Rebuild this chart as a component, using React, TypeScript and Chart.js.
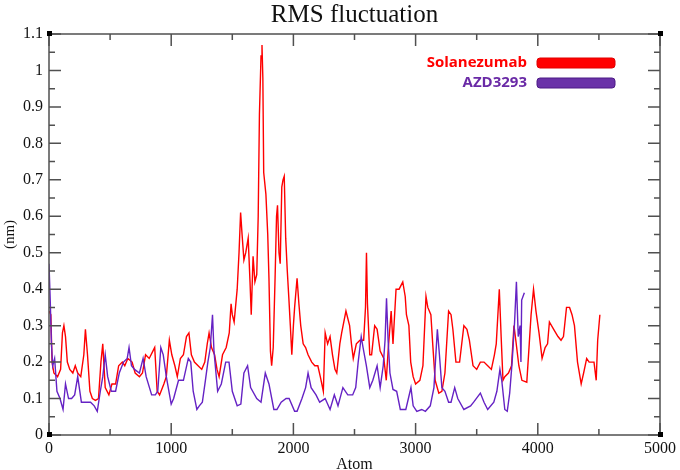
import { useEffect, useRef } from "react";
import { Chart, LineController, LineElement, PointElement, LinearScale, Title } from "chart.js";
import type { Plugin } from "chart.js";

Chart.register(LineController, LineElement, PointElement, LinearScale, Title);

// values (atom index, nm)
const solanezumabAtoms = [
  0, 15, 25, 40, 70, 95, 110, 122, 135, 150, 170, 195, 215, 235, 260, 285, 298, 315, 335, 355,
  380, 405, 425, 440, 460, 490, 515, 545, 570, 600, 620, 645, 680, 705, 740, 765, 790, 820, 850, 865,
  885, 905, 940, 960, 985, 1005, 1030, 1050, 1075, 1100, 1125, 1145, 1165, 1190, 1220, 1250, 1275, 1295, 1310, 1330,
  1355, 1375, 1392, 1420, 1450, 1475, 1490, 1500, 1515, 1540, 1555, 1568, 1580, 1595, 1610, 1630, 1645, 1655, 1670, 1685,
  1700, 1712, 1722, 1735, 1743, 1750, 1757, 1775, 1790, 1800, 1812, 1822, 1835, 1850, 1862, 1870, 1882, 1892, 1905, 1915,
  1925, 1937, 1950, 1962, 1975, 1987, 2000, 2010, 2030, 2045, 2060, 2080, 2100, 2120, 2150, 2175, 2200, 2220, 2245, 2260,
  2280, 2300, 2320, 2340, 2355, 2380, 2395, 2430, 2460, 2475, 2490, 2515, 2545, 2575, 2590, 2598, 2606, 2625, 2640, 2665,
  2685, 2710, 2740, 2760, 2775, 2800, 2815, 2840, 2865, 2895, 2915, 2925, 2945, 2960, 2980, 3000, 3035, 3060, 3085, 3100,
  3125, 3140, 3160, 3190, 3215, 3240, 3270, 3290, 3305, 3330, 3360, 3395, 3420, 3440, 3470, 3500, 3530, 3560, 3590, 3620,
  3645, 3660, 3685, 3700, 3715, 3730, 3760, 3785, 3805, 3820, 3845, 3870, 3910, 3930, 3945, 3965, 3985, 4010, 4035, 4060,
  4080, 4095, 4130, 4165, 4190, 4210, 4235, 4260, 4280, 4300, 4325, 4355, 4375, 4400, 4420, 4445, 4460, 4478, 4490, 4508,
];
const solanezumabRms = [
  0.34, 0.33, 0.2, 0.17, 0.16, 0.18, 0.28, 0.3, 0.27, 0.2, 0.18, 0.17, 0.19, 0.17, 0.16, 0.22, 0.29, 0.22, 0.12, 0.1,
  0.095, 0.1, 0.2, 0.25, 0.13, 0.11, 0.14, 0.14, 0.19, 0.2, 0.19, 0.21, 0.2, 0.17, 0.16, 0.17, 0.22, 0.21, 0.23, 0.24,
  0.12, 0.11, 0.14, 0.16, 0.26, 0.22, 0.19, 0.16, 0.21, 0.22, 0.27, 0.28, 0.22, 0.2, 0.19, 0.18, 0.2, 0.25, 0.28, 0.24,
  0.22, 0.18, 0.16, 0.22, 0.24, 0.28, 0.36, 0.33, 0.31, 0.4, 0.5, 0.61, 0.55, 0.48, 0.5, 0.54, 0.42, 0.33, 0.49, 0.42,
  0.44, 0.6, 0.88, 1.04, 1.07, 0.98, 0.72, 0.66, 0.55, 0.43, 0.23, 0.19, 0.24, 0.43, 0.6, 0.63, 0.5, 0.47, 0.68, 0.7,
  0.71, 0.54, 0.45, 0.38, 0.3, 0.22, 0.3, 0.35, 0.43, 0.36, 0.3, 0.25, 0.24, 0.22, 0.2, 0.19, 0.19, 0.16, 0.12, 0.28,
  0.25, 0.27, 0.22, 0.18, 0.17, 0.25, 0.28, 0.34, 0.3, 0.25, 0.21, 0.25, 0.26, 0.26, 0.35, 0.5, 0.36, 0.22, 0.22, 0.3,
  0.29, 0.23, 0.21, 0.15, 0.23, 0.34, 0.25, 0.4, 0.4, 0.42, 0.38, 0.33, 0.3, 0.2, 0.16, 0.14, 0.15, 0.19, 0.38, 0.35,
  0.33, 0.25, 0.15, 0.115, 0.12, 0.17, 0.34, 0.33, 0.29, 0.2, 0.2, 0.3, 0.29, 0.26, 0.19, 0.18, 0.2, 0.2, 0.19, 0.18,
  0.22, 0.25, 0.4, 0.27, 0.15, 0.16, 0.17, 0.19, 0.3, 0.26, 0.19, 0.15, 0.145, 0.25, 0.33, 0.4, 0.34, 0.28, 0.21, 0.24,
  0.25, 0.31, 0.29, 0.27, 0.26, 0.27, 0.35, 0.35, 0.33, 0.3, 0.2, 0.14, 0.17, 0.21, 0.2, 0.2, 0.2, 0.15, 0.26, 0.33,
];

const azdAtoms = [
  0, 10, 20, 30, 46, 65, 90, 115, 135, 160, 185, 210, 235, 265, 300, 340, 370, 395, 420, 440,
  460, 480, 510, 545, 575, 610, 640, 655, 675, 700, 740, 770, 795, 840, 870, 890, 915, 935, 960, 1000,
  1020, 1060, 1100, 1140, 1160, 1180, 1210, 1230, 1255, 1280, 1300, 1320, 1338, 1350, 1380, 1410, 1446, 1473, 1500, 1540,
  1570, 1595, 1625, 1650, 1700, 1735, 1770, 1800, 1840, 1865, 1900, 1940, 1965, 2010, 2030, 2070, 2100, 2120, 2145, 2185,
  2215, 2260, 2300, 2335, 2365, 2405, 2445, 2485, 2510, 2530, 2555, 2570, 2597, 2625, 2650, 2685, 2710, 2735, 2750, 2762,
  2775, 2790, 2815, 2845, 2875, 2920, 2962, 2980, 3010, 3050, 3080, 3120, 3150, 3178, 3195, 3215, 3240, 3270, 3290, 3320,
  3345, 3395, 3450, 3475, 3530, 3560, 3590, 3640, 3665, 3690, 3705, 3730, 3750, 3770, 3790, 3810, 3825, 3840, 3855, 3862,
  3868, 3890,
];
const azdRms = [
  0.47, 0.37, 0.25, 0.19, 0.21, 0.12, 0.1, 0.07, 0.14, 0.1, 0.1, 0.11, 0.16, 0.09, 0.09, 0.09, 0.08, 0.065, 0.12, 0.16,
  0.22, 0.16, 0.12, 0.12, 0.17, 0.2, 0.21, 0.24, 0.19, 0.18, 0.17, 0.21, 0.16, 0.11, 0.11, 0.12, 0.24, 0.22, 0.16, 0.085,
  0.1, 0.15, 0.15, 0.21, 0.2, 0.12, 0.07, 0.08, 0.09, 0.15, 0.2, 0.24, 0.33, 0.23, 0.12, 0.14, 0.2, 0.2, 0.12, 0.08,
  0.085, 0.17, 0.19, 0.13, 0.1, 0.09, 0.17, 0.14, 0.07, 0.07, 0.09, 0.1, 0.1, 0.065, 0.065, 0.1, 0.13, 0.17, 0.13, 0.11,
  0.09, 0.1, 0.07, 0.11, 0.08, 0.13, 0.11, 0.11, 0.13, 0.2, 0.27, 0.24, 0.19, 0.13, 0.15, 0.19, 0.13, 0.19, 0.26, 0.375,
  0.26, 0.17, 0.125, 0.12, 0.07, 0.07, 0.13, 0.08, 0.065, 0.07, 0.065, 0.08, 0.13, 0.29, 0.22, 0.13, 0.12, 0.09, 0.09, 0.13,
  0.1, 0.07, 0.08, 0.09, 0.115, 0.09, 0.07, 0.09, 0.12, 0.18, 0.15, 0.07, 0.065, 0.115, 0.2, 0.31, 0.42, 0.27, 0.3, 0.2,
  0.37, 0.39,
];

const xMajor = [0, 1000, 2000, 3000, 4000, 5000];
const xMinor = [500, 1500, 2500, 3500, 4500];
const yMajor = [0, 0.1, 0.2, 0.3, 0.4, 0.5, 0.6, 0.7, 0.8, 0.9, 1, 1.1];
const yMinor = [0.05, 0.15, 0.25, 0.35, 0.45, 0.55, 0.65, 0.75, 0.85, 0.95, 1.05];

const RED = "#ff0000";
const PURPLE = "#6522c4";

const legendItems = [
  { label: "Solanezumab", text: "#ff0000", fill: "#ff0000", edge: "#e00000" },
  { label: "AZD3293", text: "#6a2aa6", fill: "#6a32a8", edge: "#4c1a86" },
];

const serif = "'Liberation Serif', 'Times New Roman', serif";

const gracePlugin: Plugin<"line"> = {
  id: "graceFrame",
  afterDraw(chart) {
    const { ctx, chartArea: a } = chart;
    const sx = chart.scales.x;
    const sy = chart.scales.y;
    ctx.save();
    ctx.strokeStyle = "#505050";
    ctx.lineWidth = 1.5;
    ctx.strokeRect(a.left, a.top, a.right - a.left, a.bottom - a.top);

    ctx.beginPath();
    const xTick = (v: number, len: number) => {
      const px = sx.getPixelForValue(v);
      ctx.moveTo(px, a.bottom);
      ctx.lineTo(px, a.bottom - len);
      ctx.moveTo(px, a.top);
      ctx.lineTo(px, a.top + len);
    };
    const yTick = (v: number, len: number) => {
      const py = sy.getPixelForValue(v);
      ctx.moveTo(a.left, py);
      ctx.lineTo(a.left + len, py);
      ctx.moveTo(a.right, py);
      ctx.lineTo(a.right - len, py);
    };
    xMajor.forEach((v) => xTick(v, 12));
    xMinor.forEach((v) => xTick(v, 6));
    yMajor.forEach((v) => yTick(v, 12));
    yMinor.forEach((v) => yTick(v, 6));
    ctx.stroke();

    // little corner squares like xmgrace
    ctx.fillStyle = "#000";
    for (const [cx, cy] of [
      [a.left, a.top],
      [a.right, a.top],
      [a.left, a.bottom],
      [a.right, a.bottom],
    ]) {
      ctx.fillRect(cx - 2, cy - 3, 5, 5);
    }

    // legend
    ctx.font = `bold 15px 'Open Sans', 'DejaVu Sans', sans-serif`;
    ctx.textAlign = "right";
    ctx.textBaseline = "middle";
    legendItems.forEach((item, i) => {
      const yy = a.top + 29 + i * 20;
      ctx.fillStyle = item.text;
      ctx.fillText(item.label, 527, yy);
      ctx.beginPath();
      ctx.roundRect(537, yy - 5, 78, 10, 3);
      ctx.fillStyle = item.fill;
      ctx.fill();
      ctx.strokeStyle = item.edge;
      ctx.lineWidth = 1;
      ctx.stroke();
    });
    ctx.restore();
  },
};

export default function App() {
  const canvasRef = useRef<HTMLCanvasElement | null>(null);
  const chartRef = useRef<Chart | null>(null);

  useEffect(() => {
    if (!canvasRef.current) return;
    const ctx = canvasRef.current.getContext("2d");
    if (!ctx) return;

    chartRef.current = new Chart(ctx, {
      type: "line",
      data: {
        datasets: [
          {
            label: "AZD3293",
            data: azdAtoms.map((x, i) => ({ x, y: azdRms[i] })),
            borderColor: PURPLE,
            borderWidth: 1.4,
            pointRadius: 0,
            tension: 0,
            order: 0,
          },
          {
            label: "Solanezumab",
            data: solanezumabAtoms.map((x, i) => ({ x, y: solanezumabRms[i] })),
            borderColor: RED,
            borderWidth: 1.4,
            pointRadius: 0,
            tension: 0,
            order: 1,
          },
        ],
      },
      options: {
        responsive: true,
        maintainAspectRatio: false,
        animation: false,
        layout: { padding: { left: 0, right: 19, top: 0, bottom: 0 } },
        plugins: {
          legend: { display: false },
          title: {
            display: true,
            fullSize: false,
            text: "RMS fluctuation",
            color: "#111",
            font: { family: serif, size: 25, weight: "normal", lineHeight: 1.2 },
            padding: { top: 0, bottom: 4 },
          },
        },
        scales: {
          x: {
            type: "linear",
            min: 0,
            max: 5000,
            afterFit: (scale) => {
              scale.height = 35;
            },
            ticks: {
              stepSize: 1000,
              color: "#111",
              padding: 4,
              maxRotation: 0,
              font: { family: serif, size: 16 },
              callback: (v) => String(v),
            },
            grid: { display: false, drawTicks: false },
            border: { display: false },
            title: {
              display: true,
              text: "Atom",
              color: "#111",
              font: { family: serif, size: 16, lineHeight: 1.2 },
              padding: { top: 0, bottom: -4 },
            },
          },
          y: {
            type: "linear",
            min: 0,
            max: 1.1,
            afterFit: (scale) => {
              scale.width = 49;
            },
            ticks: {
              stepSize: 0.1,
              color: "#111",
              padding: 6,
              font: { family: serif, size: 16 },
              callback: (v) => String(Math.round(Number(v) * 10) / 10),
            },
            grid: { display: false, drawTicks: false },
            border: { display: false },
            title: {
              display: true,
              text: "(nm)",
              color: "#111",
              font: { family: serif, size: 15, lineHeight: 1.2 },
              padding: { top: 1, bottom: 0 },
            },
          },
        },
      },
      plugins: [gracePlugin],
    });

    return () => {
      if (chartRef.current) {
        chartRef.current.destroy();
        chartRef.current = null;
      }
    };
  }, []);

  return (
    <div style={{ position: "absolute", left: 0, top: 0, width: 680, height: 470, background: "#fff" }}>
      <canvas ref={canvasRef} />
    </div>
  );
}
